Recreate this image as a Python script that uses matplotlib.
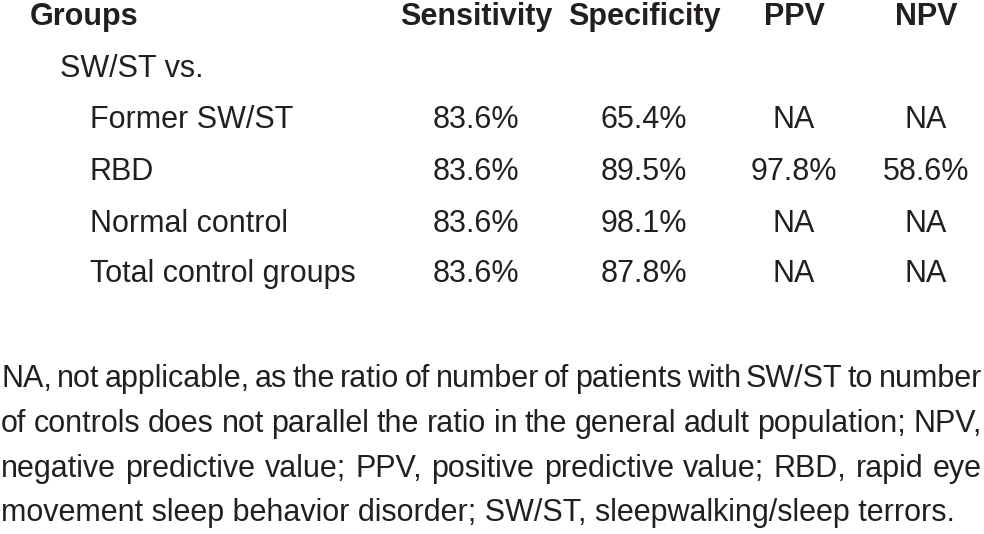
import matplotlib
matplotlib.use("Agg")
import matplotlib.pyplot as plt

# table content
headers = ["Sensitivity", "Specificity", "PPV", "NPV"]
section = "SW/ST vs."
groups = ["Former SW/ST", "RBD", "Normal control", "Total control groups"]
sensitivity = ["83.6%", "83.6%", "83.6%", "83.6%"]
specificity = ["65.4%", "89.5%", "98.1%", "87.8%"]
ppv = ["NA", "97.8%", "NA", "NA"]
npv = ["NA", "58.6%", "NA", "NA"]

footnote = [
    "NA, not applicable, as the ratio of number of patients with SW/ST to number",
    "of controls does not parallel the ratio in the general adult population; NPV,",
    "negative predictive value; PPV, positive predictive value; RBD, rapid eye",
    "movement sleep behavior disorder; SW/ST, sleepwalking/sleep terrors.",
]

W, H = 984, 534
FONT = ["Liberation Sans", "DejaVu Sans"]
FS = 22

fig = plt.figure(figsize=(W / 100, H / 100), dpi=100)
fig.patch.set_facecolor("white")


def put(x, y, s, ha="left", bold=False, size=FS):
    # x, y in pixels from the top-left corner, y is the baseline
    return fig.text(x / W, 1 - y / H, s, ha=ha, va="baseline", fontsize=size,
                    family=FONT, fontweight="bold" if bold else "normal",
                    color="#231f20")


col_x = [476, 644, 794, 926]
row_y = [128, 180, 232, 282]

put(30, 25, "Groups", bold=True)
for cx, h in zip(col_x, headers):
    put(cx, 25, h, ha="center", bold=True)

put(60, 77, section)
for i, g in enumerate(groups):
    put(90, row_y[i], g)
    for cx, vals in zip(col_x, [sensitivity, specificity, ppv, npv]):
        put(cx, row_y[i], vals[i], ha="center")

# footnote, first three lines justified to the full width
foot_y = [387, 432, 477, 521]
renderer = fig.canvas.get_renderer()
left, right = 1, 982
for k, line in enumerate(footnote):
    if k == len(footnote) - 1:
        put(left, foot_y[k], line)
        continue
    words = line.split(" ")
    arts = [put(left, foot_y[k], w) for w in words]
    widths = [a.get_window_extent(renderer).width for a in arts]
    gap = (right - left - sum(widths)) / (len(words) - 1)
    x = left
    for a, w in zip(arts, widths):
        a.set_x(x / W)
        x += w + gap

fig.savefig("out.png", dpi=100, facecolor="white")
